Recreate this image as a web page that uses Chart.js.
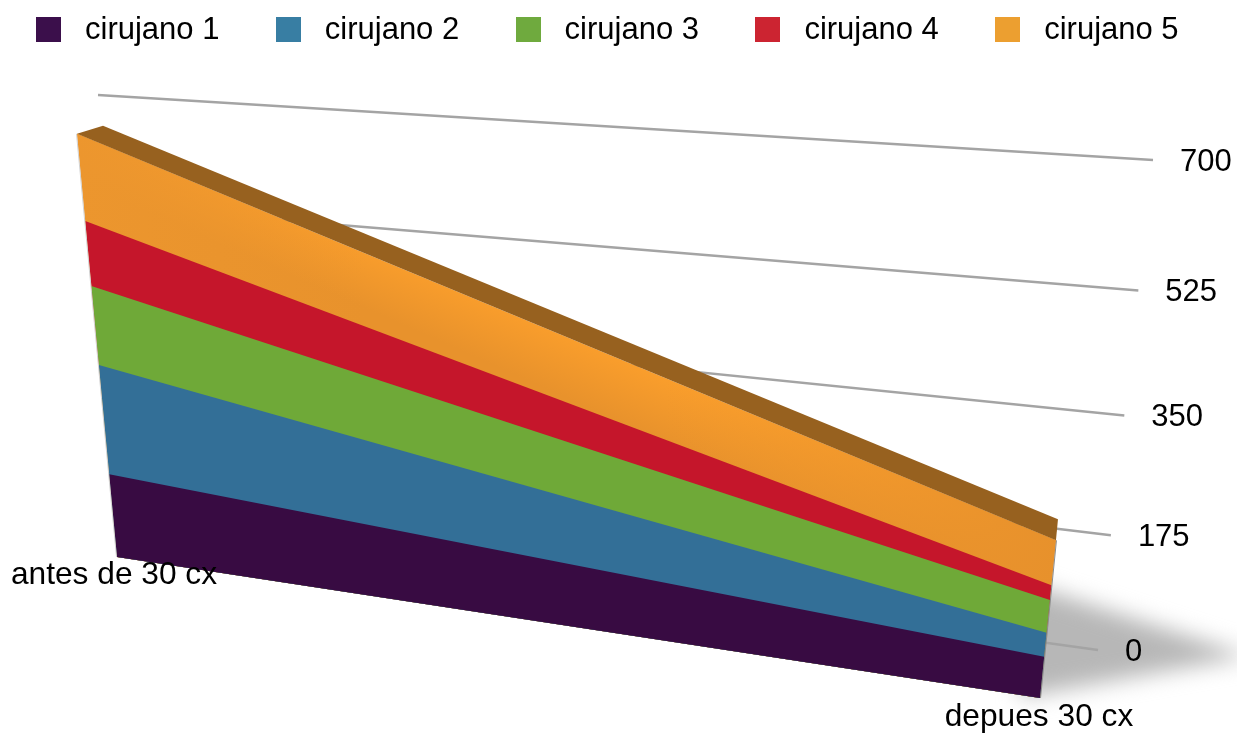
<!DOCTYPE html>
<html>
<head>
<meta charset="utf-8">
<style>
    html, body { margin: 0; padding: 0; background: #fff; }
    body { width: 1237px; height: 736px; position: relative; overflow: hidden; font-family: "Liberation Sans", Arial, sans-serif; color: #000; }
    #canvas0 { position: absolute; left: 0; top: 0; }
    #legend { position: absolute; left: 36px; top: 13px; display: flex; }
    .legend-item { width: 239.8px; height: 33px; display: flex; align-items: center; font-size: 31px; white-space: nowrap; }
    .legend-item span:last-child { position: relative; top: -1px; }
    .legend-swatch { flex: none; width: 25px; height: 25px; margin-right: 24px; }
</style>
</head>
<body>
<canvas id="canvas0" width="1237" height="736"></canvas>
<div id="legend"></div>
<script src="https://cdn.jsdelivr.net/npm/chart.js@4/dist/chart.umd.min.js"></script>
<script>
const categories = ['antes de 30 cx', 'depues 30 cx'];
const seriesNames = ['cirujano 1', 'cirujano 2', 'cirujano 3', 'cirujano 4', 'cirujano 5'];
const cirujano1 = [137, 58];
const cirujano2 = [174, 33];
const cirujano3 = [121, 45];
const cirujano4 = [97, 20];
const cirujano5 = [126, 60];
const seriesValues = [cirujano1, cirujano2, cirujano3, cirujano4, cirujano5];

const legendColors = ['#3b0f4b', '#387ea3', '#6faa3e', '#cc2431', '#ec9f30'];
const faceColors = ['#380b42', '#336f97', '#6fa938', '#c5162b', '#f0982d'];
const topFaceColor = '#97611f';

// corners of the two slanted planes, in order: bottom left, top left, bottom right, top right
const frontPlane = [[117, 557], [74, 102], [1040, 698], [1096, 145]];
const wallPlane = [[125, 515], [98, 95], [1098, 650], [1153, 160]];
// how far the top surface runs back from the front plane, per category
const depthShift = [[26, -8], [2, -21]];

// unit square -> quad homography
const makeProjection = ([p0, p3, p1, p2]) => {
    const dx1 = p1[0] - p2[0], dx2 = p3[0] - p2[0], sx = p0[0] - p1[0] + p2[0] - p3[0];
    const dy1 = p1[1] - p2[1], dy2 = p3[1] - p2[1], sy = p0[1] - p1[1] + p2[1] - p3[1];
    const det = dx1 * dy2 - dx2 * dy1;
    const g = (sx * dy2 - dx2 * sy) / det;
    const h = (dx1 * sy - sx * dy1) / det;
    const a = p1[0] - p0[0] + g * p1[0], b = p3[0] - p0[0] + h * p3[0];
    const d = p1[1] - p0[1] + g * p1[1], e = p3[1] - p0[1] + h * p3[1];
    return (u, v) => {
        const w = g * u + h * v + 1;
        return [(a * u + b * v + p0[0]) / w, (d * u + e * v + p0[1]) / w];
    };
};
const toFront = makeProjection(frontPlane);
const toWall = makeProjection(wallPlane);

const polygon = (ctx, pts, fill) => {
    ctx.beginPath();
    pts.forEach((p, i) => i ? ctx.lineTo(p[0], p[1]) : ctx.moveTo(p[0], p[1]));
    ctx.closePath();
    ctx.fillStyle = fill;
    ctx.fill();
};

const perspectivePlugin = {
    id: 'perspective',
    beforeDatasetsDraw(chart) {
        const { ctx, chartArea: area, scales: { x: xScale, y: yScale } } = chart;
        const unit = (px, py) => [(px - area.left) / area.width, (area.bottom - py) / area.height];
        const front = (px, py) => toFront(...unit(px, py));
        const baseY = yScale.getPixelForValue(0);
        const xs = categories.map((c, i) => xScale.getPixelForValue(i));

        ctx.save();

        // floor shadow
        ctx.save();
        ctx.filter = 'blur(11px)';
        polygon(ctx, [[1020, 582], [1250, 656], [1020, 697]], '#b7b7b7');
        ctx.restore();

        // gridlines on the back wall
        ctx.strokeStyle = '#a4a4a4';
        ctx.lineWidth = 2.4;
        yScale.ticks.forEach(tick => {
            const v = unit(0, yScale.getPixelForValue(tick.value))[1];
            const from = toWall(0, v), to = toWall(1, v);
            ctx.beginPath();
            ctx.moveTo(from[0], from[1]);
            ctx.lineTo(to[0], to[1]);
            ctx.stroke();
        });

        const bottomLeft = front(xs[0], baseY), bottomRight = front(xs[1], baseY);

        // stacked faces, top series first so each one overlaps the next
        for (let i = chart.data.datasets.length - 1; i >= 0; i--) {
            const points = chart.getDatasetMeta(i).data;
            const topLeft = front(points[0].x, points[0].y);
            const topRight = front(points[1].x, points[1].y);
            const face = [topLeft, topRight, bottomRight, bottomLeft];
            if (i === chart.data.datasets.length - 1) {
                // the top band catches a soft highlight in its middle
                const glow = ctx.createLinearGradient(560, 330, 520, 420);
                glow.addColorStop(0, '#fa9e2c');
                glow.addColorStop(0.6, '#e8922c');
                polygon(ctx, face, glow);
                const falloff = ctx.createLinearGradient(70, 0, 1060, 0);
                falloff.addColorStop(0, 'rgba(236,150,46,1)');
                falloff.addColorStop(0.3, 'rgba(236,150,46,0)');
                falloff.addColorStop(0.6, 'rgba(231,145,44,0)');
                falloff.addColorStop(1, 'rgba(231,145,44,1)');
                polygon(ctx, face, falloff);
            } else {
                polygon(ctx, face, faceColors[i]);
            }
        }

        // top surface of the stack
        const last = chart.getDatasetMeta(chart.data.datasets.length - 1).data;
        const topLeft = front(last[0].x, last[0].y);
        const topRight = front(last[1].x, last[1].y);
        polygon(ctx, [
            topLeft,
            [topLeft[0] + depthShift[0][0], topLeft[1] + depthShift[0][1]],
            [topRight[0] + depthShift[1][0], topRight[1] + depthShift[1][1]],
            topRight
        ], topFaceColor);

        // thin side edges
        ctx.lineWidth = 1;
        ctx.strokeStyle = '#d2d2d2';
        ctx.beginPath();
        ctx.moveTo(topLeft[0] - 0.5, topLeft[1]);
        ctx.lineTo(bottomLeft[0] - 0.5, bottomLeft[1]);
        ctx.stroke();
        ctx.strokeStyle = '#8a8a8a';
        ctx.beginPath();
        ctx.moveTo(topRight[0] + 0.5, topRight[1]);
        ctx.lineTo(bottomRight[0] + 0.5, bottomRight[1]);
        ctx.stroke();

        // axis text
        ctx.fillStyle = '#000';
        ctx.font = '31px "Liberation Sans", Arial, sans-serif';
        ctx.textBaseline = 'middle';
        ctx.textAlign = 'left';
        yScale.ticks.forEach(tick => {
            const v = unit(0, yScale.getPixelForValue(tick.value))[1];
            const end = toWall(1, v);
            ctx.fillText(tick.label, end[0] + 27, end[1] + 2);
        });
        ctx.textAlign = 'center';
        ctx.font = '31.7px "Liberation Sans", Arial, sans-serif';
        ctx.fillText(categories[0], bottomLeft[0] - 3, bottomLeft[1] + 18);
        ctx.fillText(categories[1], bottomRight[0] - 1, bottomRight[1] + 19);

        ctx.restore();
    }
};

const canvas0 = document.querySelector('#canvas0');
const chart0 = new Chart(canvas0, {
    type: 'line',
    data: {
        labels: categories,
        datasets: seriesNames.map((name, i) => ({
            label: name,
            data: seriesValues[i],
            borderColor: legendColors[i],
            backgroundColor: legendColors[i],
            showLine: false,
            pointRadius: 0,
            fill: false
        }))
    },
    options: {
        responsive: false,
        animation: false,
        layout: { padding: 0 },
        plugins: {
            legend: { display: false },
            tooltip: { enabled: false }
        },
        scales: {
            x: { display: false, offset: false },
            y: { display: false, stacked: true, min: 0, max: 700, ticks: { stepSize: 175 } }
        }
    },
    plugins: [perspectivePlugin]
});

const legend = document.querySelector('#legend');
chart0.data.datasets.forEach(dataset => {
    const item = document.createElement('div');
    item.className = 'legend-item';
    const swatch = document.createElement('span');
    swatch.className = 'legend-swatch';
    swatch.style.background = dataset.backgroundColor;
    const text = document.createElement('span');
    text.textContent = dataset.label;
    item.appendChild(swatch);
    item.appendChild(text);
    legend.appendChild(item);
});
</script>
</body>
</html>
